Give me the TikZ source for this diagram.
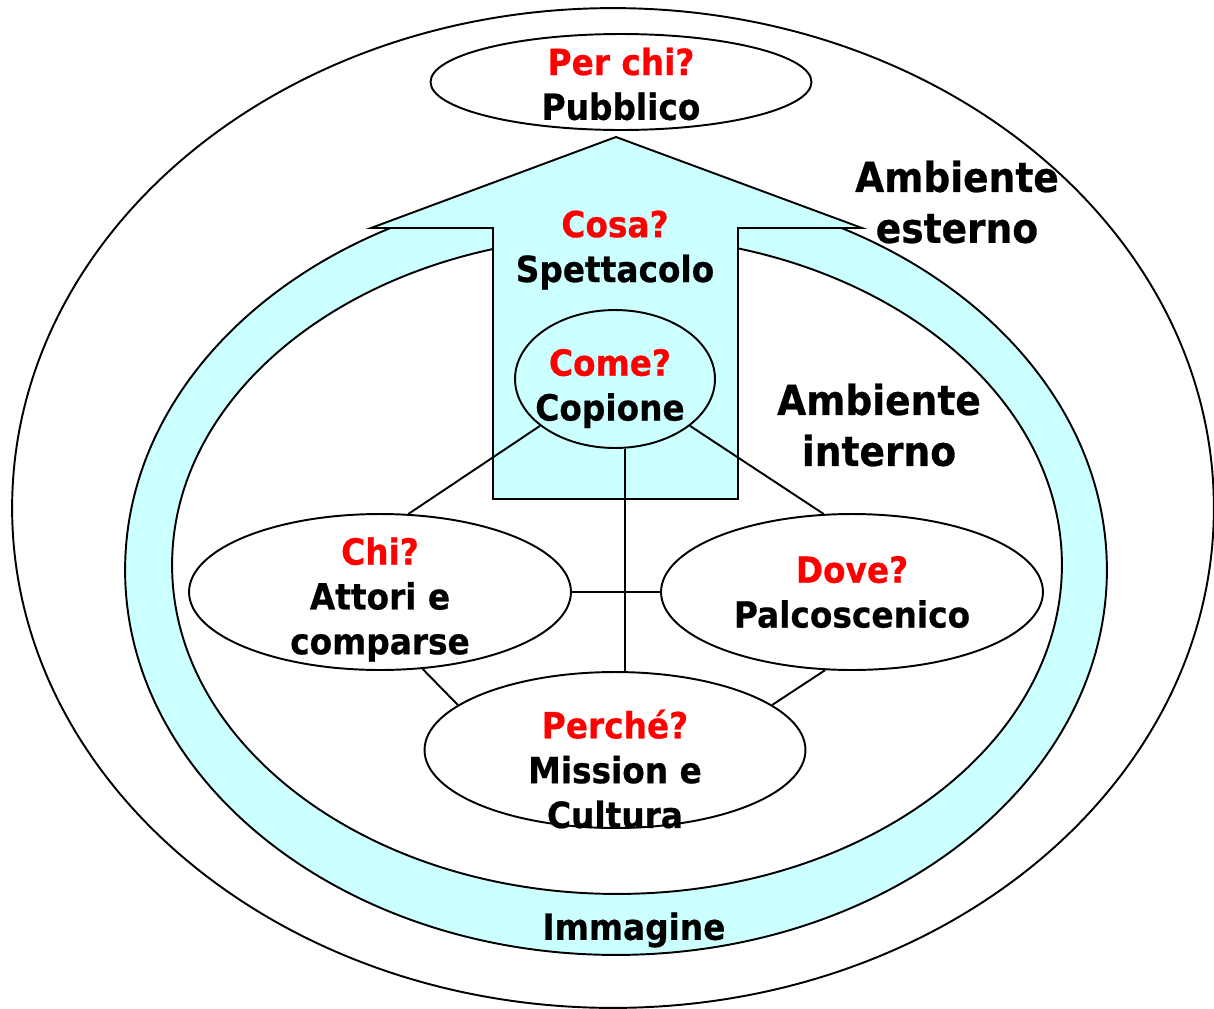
\documentclass[tikz,border=0pt]{standalone}
\usepackage{fontspec}
\setmainfont{DejaVu Sans}[FakeStretch=0.91, BoldFeatures={FakeBold=0.6}]
\usetikzlibrary{shapes.geometric}
\definecolor{ringcyan}{HTML}{CCFFFF}
\definecolor{qred}{HTML}{FF0000}
\begin{document}
\begin{tikzpicture}[x=0.02cm,y=-0.02cm,
  line width=1.1pt,
  oval/.style={ellipse, draw=black, fill=white, inner sep=0pt},
  txt/.style={align=center, font=\bfseries\fontsize{20.5}{25.5}\selectfont, inner sep=0pt},
  bigtxt/.style={align=center, font=\bfseries\fontsize{23.5}{29}\selectfont, inner sep=0pt}]
\fill[white] (0,0) rectangle (1214,1008);
\useasboundingbox (0,0) rectangle (1214,1008);
% outer environment
\draw (613,508) ellipse [x radius=12.02cm, y radius=10cm];
% image ring
\fill[ringcyan, even odd rule] (616,570) ellipse [x radius=9.82cm, y radius=7.7cm]
  (617,565) ellipse [x radius=8.9cm, y radius=6.58cm];
\draw (616,570) ellipse [x radius=9.82cm, y radius=7.7cm];
\draw[fill=white] (617,565) ellipse [x radius=8.9cm, y radius=6.58cm];
% arrow
\draw[fill=ringcyan] (616,137) -- (862,228) -- (738,228) -- (738,499) -- (493,499) -- (493,228) -- (371,228) -- cycle;
% nodes
\node[oval, minimum width=7.62cm, minimum height=1.92cm,
  label={[txt, yshift=-0.04cm]center:{\textcolor{qred}{Per chi?}\\Pubblico}}] (pub) at (621,82) {};
\node[oval, fill=ringcyan, minimum width=4cm, minimum height=2.76cm,
  label={[txt, xshift=-0.1cm, yshift=-0.19cm]center:{\textcolor{qred}{Come?}\\Copione}}] (cop) at (615,379) {};
\node[oval, minimum width=7.64cm, minimum height=3.12cm,
  label={[txt, yshift=-0.15cm]center:{\textcolor{qred}{Chi?}\\Attori e\\comparse}}] (chi) at (380,592) {};
\node[oval, minimum width=7.64cm, minimum height=3.12cm,
  label={[txt]center:{\textcolor{qred}{Dove?}\\Palcoscenico}}] (dove) at (852,592) {};
\node[oval, minimum width=7.62cm, minimum height=3.12cm,
  label={[txt, yshift=-0.38cm]center:{\textcolor{qred}{Perché?}\\Mission e\\Cultura}}] (perche) at (615,750) {};
% texts
\node[txt] (cosa) at (615,250) {\textcolor{qred}{Cosa?}\\Spettacolo};
\node[bigtxt] (est) at (957,202) {Ambiente\\esterno};
\node[bigtxt] (int) at (879,425) {Ambiente\\interno};
\node[txt] (img) at (634,930) {Immagine};
% connectors
\draw (cop.212) -- (chi.70);
\draw (cop.-32) -- (dove.110);
\draw (cop.-82) -- (cop.-82 |- perche.north);
\draw (chi.east) -- (dove.west);
\draw (chi.-61) -- (perche.164);
\draw (dove.251) -- (perche.16);
\end{tikzpicture}
\end{document}
